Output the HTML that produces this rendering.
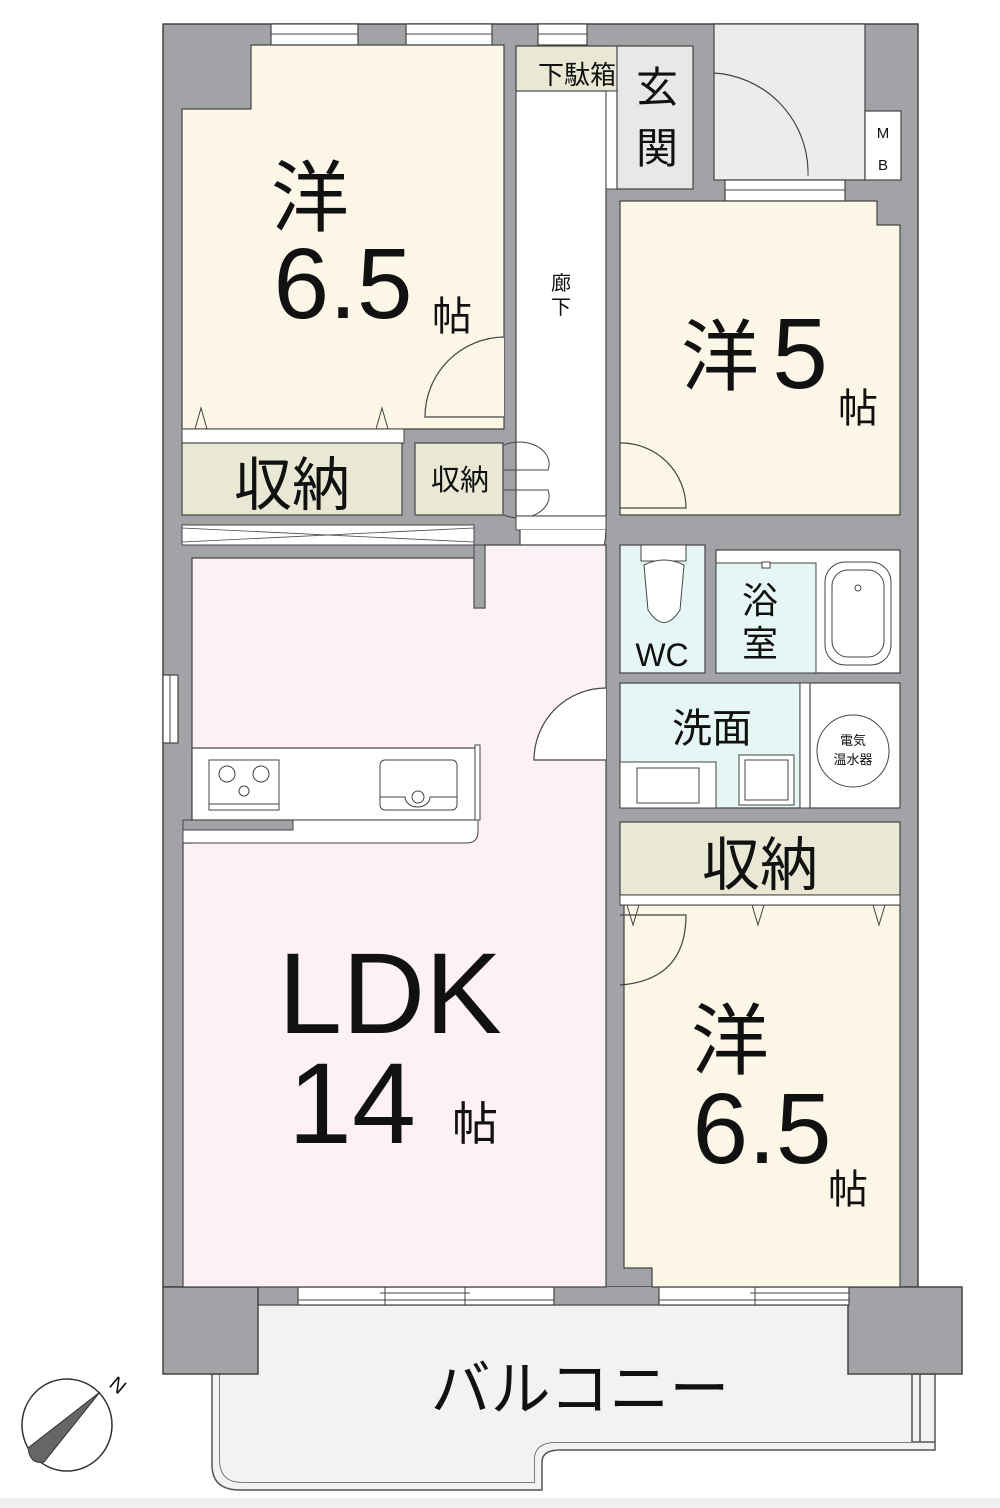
<!DOCTYPE html>
<html><head><meta charset="utf-8"><style>
html,body{margin:0;padding:0;background:#fff;}
svg{display:block;}
text{font-family:"Liberation Sans","Noto Sans CJK JP",sans-serif;fill:#111;}
</style></head><body>
<svg width="1000" height="1508" viewBox="0 0 1000 1508" xmlns="http://www.w3.org/2000/svg">
<rect x="0" y="1498" width="1000" height="10" fill="#f0f0f0"/>
<!-- Balcony -->
<path d="M212 1374 L212 1465 Q212 1490 240 1490 L542 1490 L542 1462 Q542 1450 560 1450 L935 1450 L935 1374 Z" fill="#f2f2f2" stroke="#555" stroke-width="1.5"/>
<path d="M220 1374 L220 1460 Q220 1482 242 1482 L534 1482 L534 1460 Q534 1442 556 1442 L935 1442" fill="none" stroke="#555" stroke-width="1.5"/>
<!-- Outer wall mass -->
<rect x="163" y="24" width="755" height="1263" fill="#a2a3a6" stroke="#444" stroke-width="1.5"/>
<rect x="258" y="1287" width="600" height="18" fill="#a2a3a6"/>
<path d="M258 1305 L867 1305 L867 1374 L912 1374 L912 1442 L556 1442 Q534 1442 534 1460 L534 1482 L242 1482 Q220 1482 220 1460 L220 1374 L258 1374 Z" fill="#f2f2f2" stroke="none"/>
<line x1="258" y1="1305" x2="867" y2="1305" stroke="#444" stroke-width="1.2"/>
<rect x="163" y="1287" width="95" height="87" fill="#a2a3a6" stroke="#444" stroke-width="1.5"/>
<rect x="848" y="1287" width="114" height="87" fill="#a2a3a6" stroke="#444" stroke-width="1.5"/>
<line x1="912" y1="1374" x2="912" y2="1442" stroke="#555" stroke-width="1.5"/>
<line x1="920" y1="1374" x2="920" y2="1442" stroke="#555" stroke-width="1.5"/>
<!-- entrance outside -->
<rect x="714" y="24" width="151" height="156" fill="#ececec" stroke="#444" stroke-width="1.2"/>
<rect x="865" y="111" width="36" height="69" fill="#fff" stroke="#444" stroke-width="1.2"/>
<text x="883" y="138" font-size="15" text-anchor="middle" font-family="Liberation Serif">M</text>
<text x="883" y="170" font-size="15" text-anchor="middle" font-family="Liberation Serif">B</text>
<path d="M714 73 A100 100 0 0 1 808 170" fill="none" stroke="#444" stroke-width="1.2"/>
<line x1="808" y1="170" x2="808" y2="176" stroke="#444"/>
<!-- windows -->
<g fill="#fff" stroke="#444" stroke-width="1.2">
<rect x="271" y="24" width="87" height="21"/><rect x="406" y="24" width="86" height="21"/><rect x="538" y="24" width="49" height="21"/>
<rect x="725" y="180" width="120" height="21"/>
<rect x="163" y="675" width="15" height="68"/>
<rect x="298" y="1287" width="256" height="18"/>
<rect x="659" y="1287" width="190" height="18"/>
</g>
<g stroke="#444" stroke-width="1">
<line x1="271" y1="34" x2="358" y2="34"/><line x1="406" y1="34" x2="492" y2="34"/><line x1="538" y1="34" x2="587" y2="34"/>
<line x1="725" y1="190" x2="845" y2="190"/><line x1="170" y1="675" x2="170" y2="743"/>
<line x1="298" y1="1300" x2="554" y2="1300"/><line x1="380" y1="1293" x2="470" y2="1293"/><line x1="385" y1="1287" x2="385" y2="1305"/><line x1="465" y1="1287" x2="465" y2="1305"/>
<line x1="659" y1="1300" x2="849" y2="1300"/><line x1="750" y1="1293" x2="849" y2="1293"/><line x1="755" y1="1287" x2="755" y2="1305"/>
</g>
<!-- Room 1 -->
<path d="M182 109 L251 109 L251 45 L504 45 L504 429 L182 429 Z" fill="#fcf6e6" stroke="#444" stroke-width="1.2"/>
<rect x="182" y="429" width="222" height="14" fill="#fff" stroke="#444"/>
<path d="M195 429 L201 408 L207 429 M376 429 L382 408 L388 429" fill="none" stroke="#444"/>
<rect x="182" y="443" width="220" height="72" fill="#e9e8d4" stroke="#444" stroke-width="1.2"/>
<rect x="415" y="443" width="88" height="72" fill="#e9e8d4" stroke="#444" stroke-width="1.2"/>
<path d="M504 337 A80 80 0 0 0 425 417 L504 417" fill="#fcf6e6" stroke="#444" stroke-width="1.2"/>
<!-- corridor -->
<rect x="516" y="46" width="90" height="470" fill="#fff" stroke="#444" stroke-width="1.2"/>
<rect x="516" y="46" width="126" height="45" fill="#e9e8d4" stroke="#444" stroke-width="1.2"/>
<rect x="606" y="91" width="11" height="98" fill="#fff" stroke="#444"/>
<rect x="617" y="46" width="76" height="143" fill="#e8e8e8" stroke="#444" stroke-width="1.2"/>
<path d="M504 445 A30 22 0 0 1 548 470 L504 470 M504 515 A30 22 0 0 0 548 490 L504 490" fill="none" stroke="#444"/>
<rect x="516" y="516" width="90" height="14" fill="#fff" stroke="#444"/>
<path d="M520 530 L520 608 A86 78 0 0 0 606 530" fill="#fff" stroke="#444" stroke-width="1.2"/>
<!-- Room 5 -->
<path d="M620 201 L877 201 L877 225 L900 225 L900 515 L620 515 Z" fill="#fcf6e6" stroke="#444" stroke-width="1.2"/>
<path d="M620 443 A65 65 0 0 1 686 508 L620 508" fill="none" stroke="#444" stroke-width="1.2"/>
<!-- X strip -->
<rect x="182" y="525" width="292" height="20" fill="#fff" stroke="#444"/>
<path d="M182 528 L474 542 M182 542 L474 528" stroke="#444" stroke-width="0.8"/>
<!-- LDK -->
<path d="M192 558 L474 558 L474 608 L485 608 L485 545 L606 545 L606 1287 L183 1287 L183 843 L192 843 Z" fill="#fdf1f4" stroke="#444" stroke-width="1.2"/>
<rect x="474" y="545" width="11" height="63" fill="#a2a3a6" stroke="#444"/>
<!-- kitchen -->
<rect x="192" y="748" width="286" height="72" fill="#fff" stroke="#444" stroke-width="1.2"/>
<rect x="475" y="745" width="5" height="75" fill="#fff" stroke="#444"/>
<path d="M183 820 L478 820 L478 832 Q478 843 466 843 L183 843 Z" fill="#fff" stroke="#444"/>
<rect x="183" y="820" width="110" height="10" fill="#a2a3a6" stroke="#444"/>
<rect x="209" y="760" width="70" height="50" fill="#fff" stroke="#444"/>
<line x1="209" y1="804" x2="279" y2="804" stroke="#444"/>
<circle cx="227" cy="774" r="8" fill="none" stroke="#444"/><circle cx="261" cy="774" r="8" fill="none" stroke="#444"/><circle cx="244" cy="791" r="5" fill="none" stroke="#444"/>
<rect x="380" y="760" width="77" height="50" rx="5" fill="#fff" stroke="#444"/>
<path d="M380 797 L405 797 A10 8 0 0 0 430 797 L457 797" fill="none" stroke="#444"/>
<circle cx="418" cy="797" r="6" fill="none" stroke="#444"/>
<!-- WC -->
<rect x="620" y="545" width="85" height="128" fill="#e5f6f4" stroke="#444" stroke-width="1.2"/>
<rect x="641" y="545" width="45" height="16" fill="#fff" stroke="#444"/>
<path d="M644 565 Q664 555 684 565 L680 610 Q664 635 648 610 Z" fill="#fff" stroke="#444"/>
<text x="662" y="666" font-size="32" text-anchor="middle">WC</text>
<!-- bath -->
<rect x="716" y="550" width="184" height="123" fill="#fff" stroke="#444" stroke-width="1.2"/>
<rect x="716" y="563" width="100" height="110" fill="#e5f6f4" stroke="#444"/>
<rect x="825" y="562" width="66" height="103" rx="20" fill="#fff" stroke="#444"/>
<rect x="832" y="570" width="52" height="87" rx="16" fill="none" stroke="#444"/>
<circle cx="858" cy="588" r="3" fill="none" stroke="#444"/>
<rect x="762" y="562" width="8" height="6" fill="#fff" stroke="#444"/>
<text x="760" y="613" font-size="36" text-anchor="middle">浴</text>
<text x="760" y="656" font-size="36" text-anchor="middle">室</text>
<!-- senmen -->
<rect x="620" y="683" width="180" height="125" fill="#e5f6f4" stroke="#444" stroke-width="1.2"/>
<rect x="620" y="762" width="96" height="46" fill="#fff" stroke="#444"/>
<rect x="637" y="768" width="62" height="35" fill="#fff" stroke="#444"/>
<rect x="739" y="755" width="55" height="50" fill="#fff" stroke="#444"/>
<rect x="745" y="760" width="43" height="40" fill="none" stroke="#444"/>
<path d="M606 760 L534 760 A72 72 0 0 1 606 688" fill="#fff" stroke="#444" stroke-width="1.2"/>
<text x="712" y="742" font-size="40" text-anchor="middle">洗面</text>
<rect x="800" y="683" width="10" height="125" fill="#fff" stroke="#444"/>
<rect x="810" y="683" width="90" height="125" fill="#fff" stroke="#444" stroke-width="1.2"/>
<circle cx="853" cy="751" r="36" fill="#fff" stroke="#444"/>
<text x="853" y="745" font-size="13" text-anchor="middle">電気</text>
<text x="853" y="764" font-size="13" text-anchor="middle">温水器</text>
<!-- storage right -->
<rect x="620" y="822" width="280" height="73" fill="#e9e8d4" stroke="#444" stroke-width="1.2"/>
<!-- Room bottom right -->
<path d="M620 905 L900 905 L900 1287 L652 1287 L652 1268 L624 1268 L624 905 Z" fill="#fcf6e6" stroke="#444" stroke-width="1.2"/>
<rect x="620" y="895" width="280" height="10" fill="#fff" stroke="#444"/>
<path d="M627 905 L633 925 L639 905 M752 905 L758 925 L764 905 M873 905 L879 925 L885 905" fill="none" stroke="#444"/>
<path d="M620 915 L686 915 Q686 980 620 985" fill="none" stroke="#444" stroke-width="1.2"/>
<!-- texts -->
<text x="310" y="225" font-size="78" text-anchor="middle">洋</text>
<text x="343" y="318" font-size="100" text-anchor="middle">6.5</text>
<text x="452" y="330" font-size="40" text-anchor="middle">帖</text>
<text x="292" y="505" font-size="58" text-anchor="middle">収納</text>
<text x="460" y="490" font-size="29" text-anchor="middle">収納</text>
<text x="561" y="290" font-size="20" text-anchor="middle">廊</text>
<text x="561" y="314" font-size="20" text-anchor="middle">下</text>
<text x="577" y="84" font-size="26" text-anchor="middle">下駄箱</text>
<text x="657" y="102" font-size="42" text-anchor="middle">玄</text>
<text x="657" y="163" font-size="42" text-anchor="middle">関</text>
<text x="720" y="384" font-size="78" text-anchor="middle">洋</text>
<text x="800" y="388" font-size="100" text-anchor="middle">5</text>
<text x="858" y="422" font-size="40" text-anchor="middle">帖</text>
<text x="390" y="1033" font-size="115" text-anchor="middle">LDK</text>
<text x="352" y="1143" font-size="115" text-anchor="middle">14</text>
<text x="475" y="1140" font-size="46" text-anchor="middle">帖</text>
<text x="760" y="885" font-size="58" text-anchor="middle">収納</text>
<text x="730" y="1068" font-size="78" text-anchor="middle">洋</text>
<text x="762" y="1163" font-size="100" text-anchor="middle">6.5</text>
<text x="848" y="1203" font-size="40" text-anchor="middle">帖</text>
<text x="580" y="1410" font-size="60" text-anchor="middle">バルコニー</text>
<!-- compass -->
<ellipse cx="67" cy="1425" rx="45" ry="46" fill="none" stroke="#333" stroke-width="1.5"/>
<path d="M100 1392 L28 1448 Q30 1465 44 1462 Z" fill="#666" stroke="#333"/>
<text x="118" y="1392" font-size="20" transform="rotate(40 118 1385)" text-anchor="middle">N</text>
</svg>
</body></html>
